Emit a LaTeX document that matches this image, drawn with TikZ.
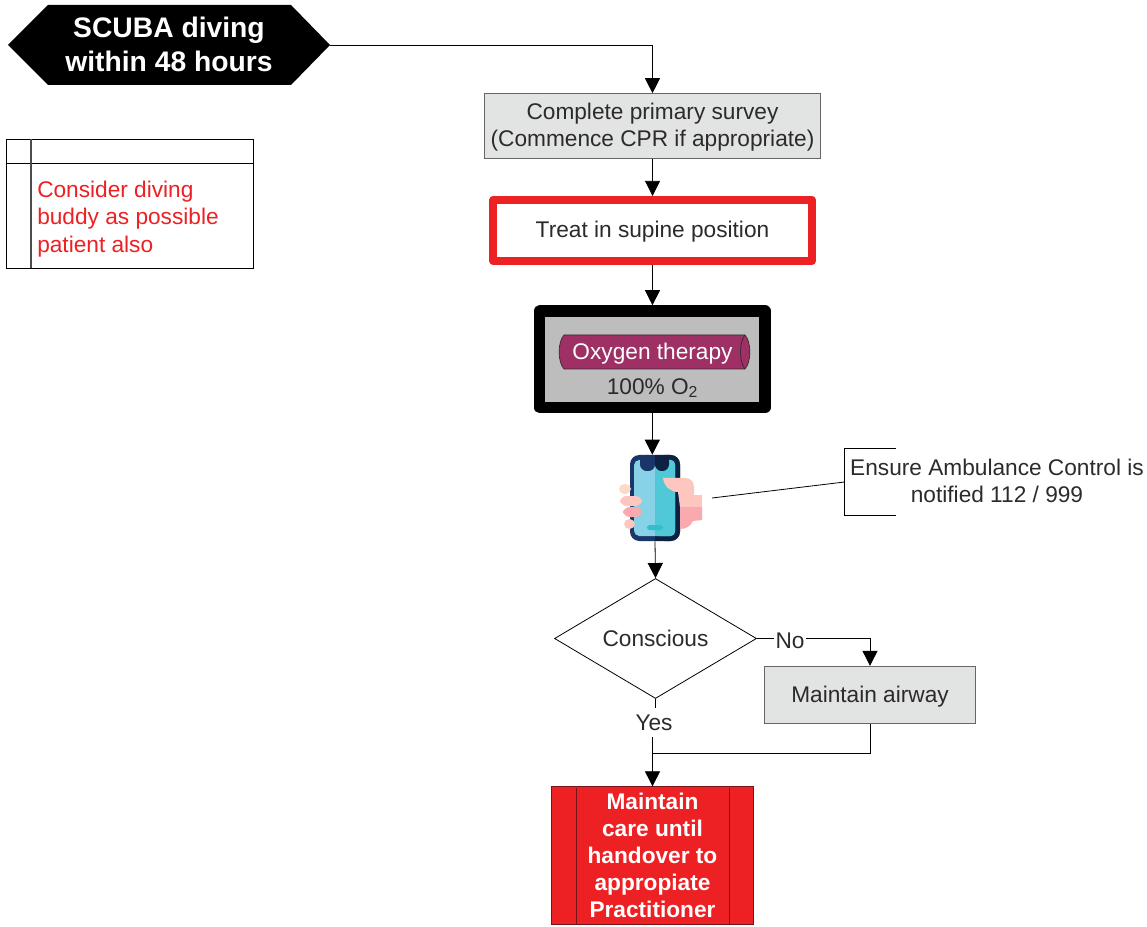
\documentclass[tikz,border=0pt]{standalone}
\usepackage{fontspec}
\setmainfont{Liberation Sans}
\usetikzlibrary{arrows.meta,shapes.geometric,calc}
\definecolor{boxgrey}{RGB}{226,227,227}
\definecolor{alertred}{RGB}{237,32,36}
\definecolor{darkred}{RGB}{120,20,25}
\definecolor{plum}{RGB}{158,48,102}
\definecolor{inkgrey}{RGB}{45,42,43}
\definecolor{midgrey}{RGB}{189,189,189}
\definecolor{navyleft}{RGB}{26,54,105}
\definecolor{navyright}{RGB}{13,33,66}
\definecolor{screenleft}{RGB}{135,210,230}
\definecolor{screenright}{RGB}{80,200,215}
\definecolor{buttoncyan}{RGB}{50,190,205}
\definecolor{skinlight}{RGB}{253,198,190}
\definecolor{skinpale}{RGB}{253,218,200}
\definecolor{skindark}{RGB}{250,170,175}
\tikzset{
  bodytext/.style={font=\fontsize{17}{20.7}\selectfont,text=inkgrey,align=center},
  greybox/.style={draw=black!60,fill=boxgrey,inner sep=0pt,line width=0.7pt},
  arrowline/.style={draw=black,line width=0.6pt,-{Triangle[length=11.3pt,width=11.3pt]}},
  plainline/.style={draw=black,line width=0.6pt},
}
\begin{document}
\begin{tikzpicture}[x=0.75pt,y=0.75pt,yscale=-1,xscale=1]
\useasboundingbox (0,0) rectangle (1147,927);
%Start hexagon
\fill [black] (48,5) -- (291,5) -- (330,45) -- (291,85) -- (48,85) -- (8,45) -- cycle;
\node (start) [font=\fontsize{21.2}{25}\selectfont\bfseries,text=white,align=center] at (169,44.5) {SCUBA diving\\within 48 hours};
\coordinate (startout) at (330,45);
%Note box
\draw [plainline,fill=white] (6.5,139.5) rectangle (253.5,268.5);
\draw [plainline] (6.5,163.5) -- (253.5,163.5);
\draw [draw=black!70,line width=0.8pt] (31,139.5) -- (31,268.5);
\node (note) [bodytext,text=alertred,align=left,anchor=west,inner sep=0pt] at (37,219) {Consider diving\\buddy as possible\\patient also};
%Survey
\node (survey) [greybox,minimum width=251.5pt,minimum height=48.5pt] at (652.5,126) {};
\node (surveytext) [bodytext] at (652.5,127) {Complete primary survey\\(Commence CPR if appropriate)};
%Supine
\node (supine) [draw=alertred,line width=6pt,line join=round,fill=white,minimum width=239pt,minimum height=45.7pt] at (652.6,230.4) {};
\node (supinetext) [bodytext] at (652.5,232) {Treat in supine position};
%Oxygen
\node (oxygen) [draw=black,line width=8.6pt,line join=round,fill=midgrey,minimum width=169pt,minimum height=72.5pt] at (652.3,359.3) {};
\draw [inkgrey,fill=plum,line width=0.5pt] (564,335) -- (745,335) .. controls (751.5,342) and (751.5,362) .. (745,369) -- (564,369) .. controls (557.5,362) and (557.5,342) .. (564,335) -- cycle;
\draw [inkgrey,line width=0.5pt] (745,335) .. controls (739,342) and (739,362) .. (745,369);
\node (tube) [bodytext,text=white] at (652.5,354) {Oxygen therapy};
\node (percent) [bodytext] at (652.5,388) {100\% O\textsubscript{2}};
%Phone
\node (phone) [minimum width=38pt,minimum height=64.5pt,inner sep=0pt] at (655,498) {};
\fill [rounded corners=7pt,navyleft] (630,455) rectangle (680,541);
\fill [rounded corners=7pt,navyright] (655,455) -- (680,455) -- (680,541) -- (655,541) -- cycle;
\fill [navyright] (655,455) rectangle (662,541);
\fill [rounded corners=4pt,screenleft] (634,460) rectangle (675,536);
\fill [rounded corners=3pt,screenright] (655,460) -- (675,460) -- (675,536) -- (655,536) -- cycle;
\fill [screenright] (655,460) rectangle (662,536);
\fill [rounded corners=5pt,navyleft] (640,455) -- (640,471) -- (655,471) -- (655,455) -- cycle;
\fill [navyleft] (640,455) rectangle (655,462);
\fill [rounded corners=5pt,navyright] (655,455) -- (655,471) -- (669,471) -- (669,455) -- cycle;
\fill [navyright] (655,455) rectangle (669,462);
\fill [rounded corners=2pt,buttoncyan] (647,525) rectangle (663,530);
\fill [rounded corners=4pt,skinpale] (619,484) rectangle (631,494);
\fill [rounded corners=5pt,skinlight] (620,496) rectangle (642,506);
\fill [rounded corners=5pt,skindark] (623,507) rectangle (642,517);
\fill [rounded corners=4pt,skinlight] (624,519) rectangle (635,529);
\fill [skinlight] (663,478) -- (685,478) .. controls (691,478) and (694,482) .. (694,487) -- (694,495) -- (702,495) -- (702,507) -- (680,507) -- (678,492) .. controls (670,492) and (664,486) .. (663,478) -- cycle;
\fill [skindark] (680,507) -- (702,507) -- (702,520) -- (693,521) .. controls (691,526) and (686,529) .. (680,529) -- cycle;
%Ambulance
\node (ambulance) [bodytext,anchor=center] at (997,481) {Ensure Ambulance Control is\\notified 112 / 999};
\draw [plainline] (896,448.5) -- (844.5,448.5) -- (844.5,515) -- (896,515);
\coordinate (ambulancein) at (844.5,482);
\coordinate (phoneout) at (712,498);
%Conscious
\node (conscious) [draw=black,line width=0.6pt,diamond,aspect=1.68,inner sep=0pt,minimum width=151.5pt,minimum height=90pt] at (655.5,638.5) {};
\node (conscioustext) [bodytext] at (655.5,638.5) {Conscious};
%Airway
\node (airway) [greybox,minimum width=158pt,minimum height=43pt] at (870,695) {};
\node (airwaytext) [bodytext] at (870,696.5) {Maintain airway};
%Care
\node (care) [draw=darkred,fill=alertred,line width=0.7pt,minimum width=151pt,minimum height=103pt,inner sep=0pt,font=\fontsize{17}{20.2}\selectfont\bfseries,text=white,align=center] at (652.5,855.5) {Maintain\\care until\\handover to\\appropiate\\Practitioner};
\draw [darkred,line width=0.7pt] (576,787.5) -- (576,924.5);
\draw [darkred,line width=0.7pt] (729,787.5) -- (729,924.5);
\node (no) [bodytext,inner sep=1pt] at (790,641) {No};
\node (yes) [bodytext,inner sep=0pt,minimum height=21.75pt] at (654,722.5) {Yes};
%Connectors
\draw [arrowline] (startout) -| (survey.north);
\draw [arrowline] (survey) -- (supine);
\draw [arrowline] (supine) -- (oxygen);
\draw [arrowline] (oxygen) -- (oxygen |- phone.north);
\draw [arrowline] (phone.south) -- (conscious.north);
\draw [plainline] (phoneout) -- (ambulancein);
\draw [plainline] (conscious.east) -- (no.west |- conscious.east);
\draw [arrowline] (no.east |- conscious.east) -| (airway.north);
\draw [plainline] (conscious.south) -- (conscious.south |- yes.north);
\draw [plainline] (airway.south) |- (care.north |- 0,753.5);
\draw [arrowline] (care.north |- yes.south) -- (care.north);
\end{tikzpicture}
\end{document}
